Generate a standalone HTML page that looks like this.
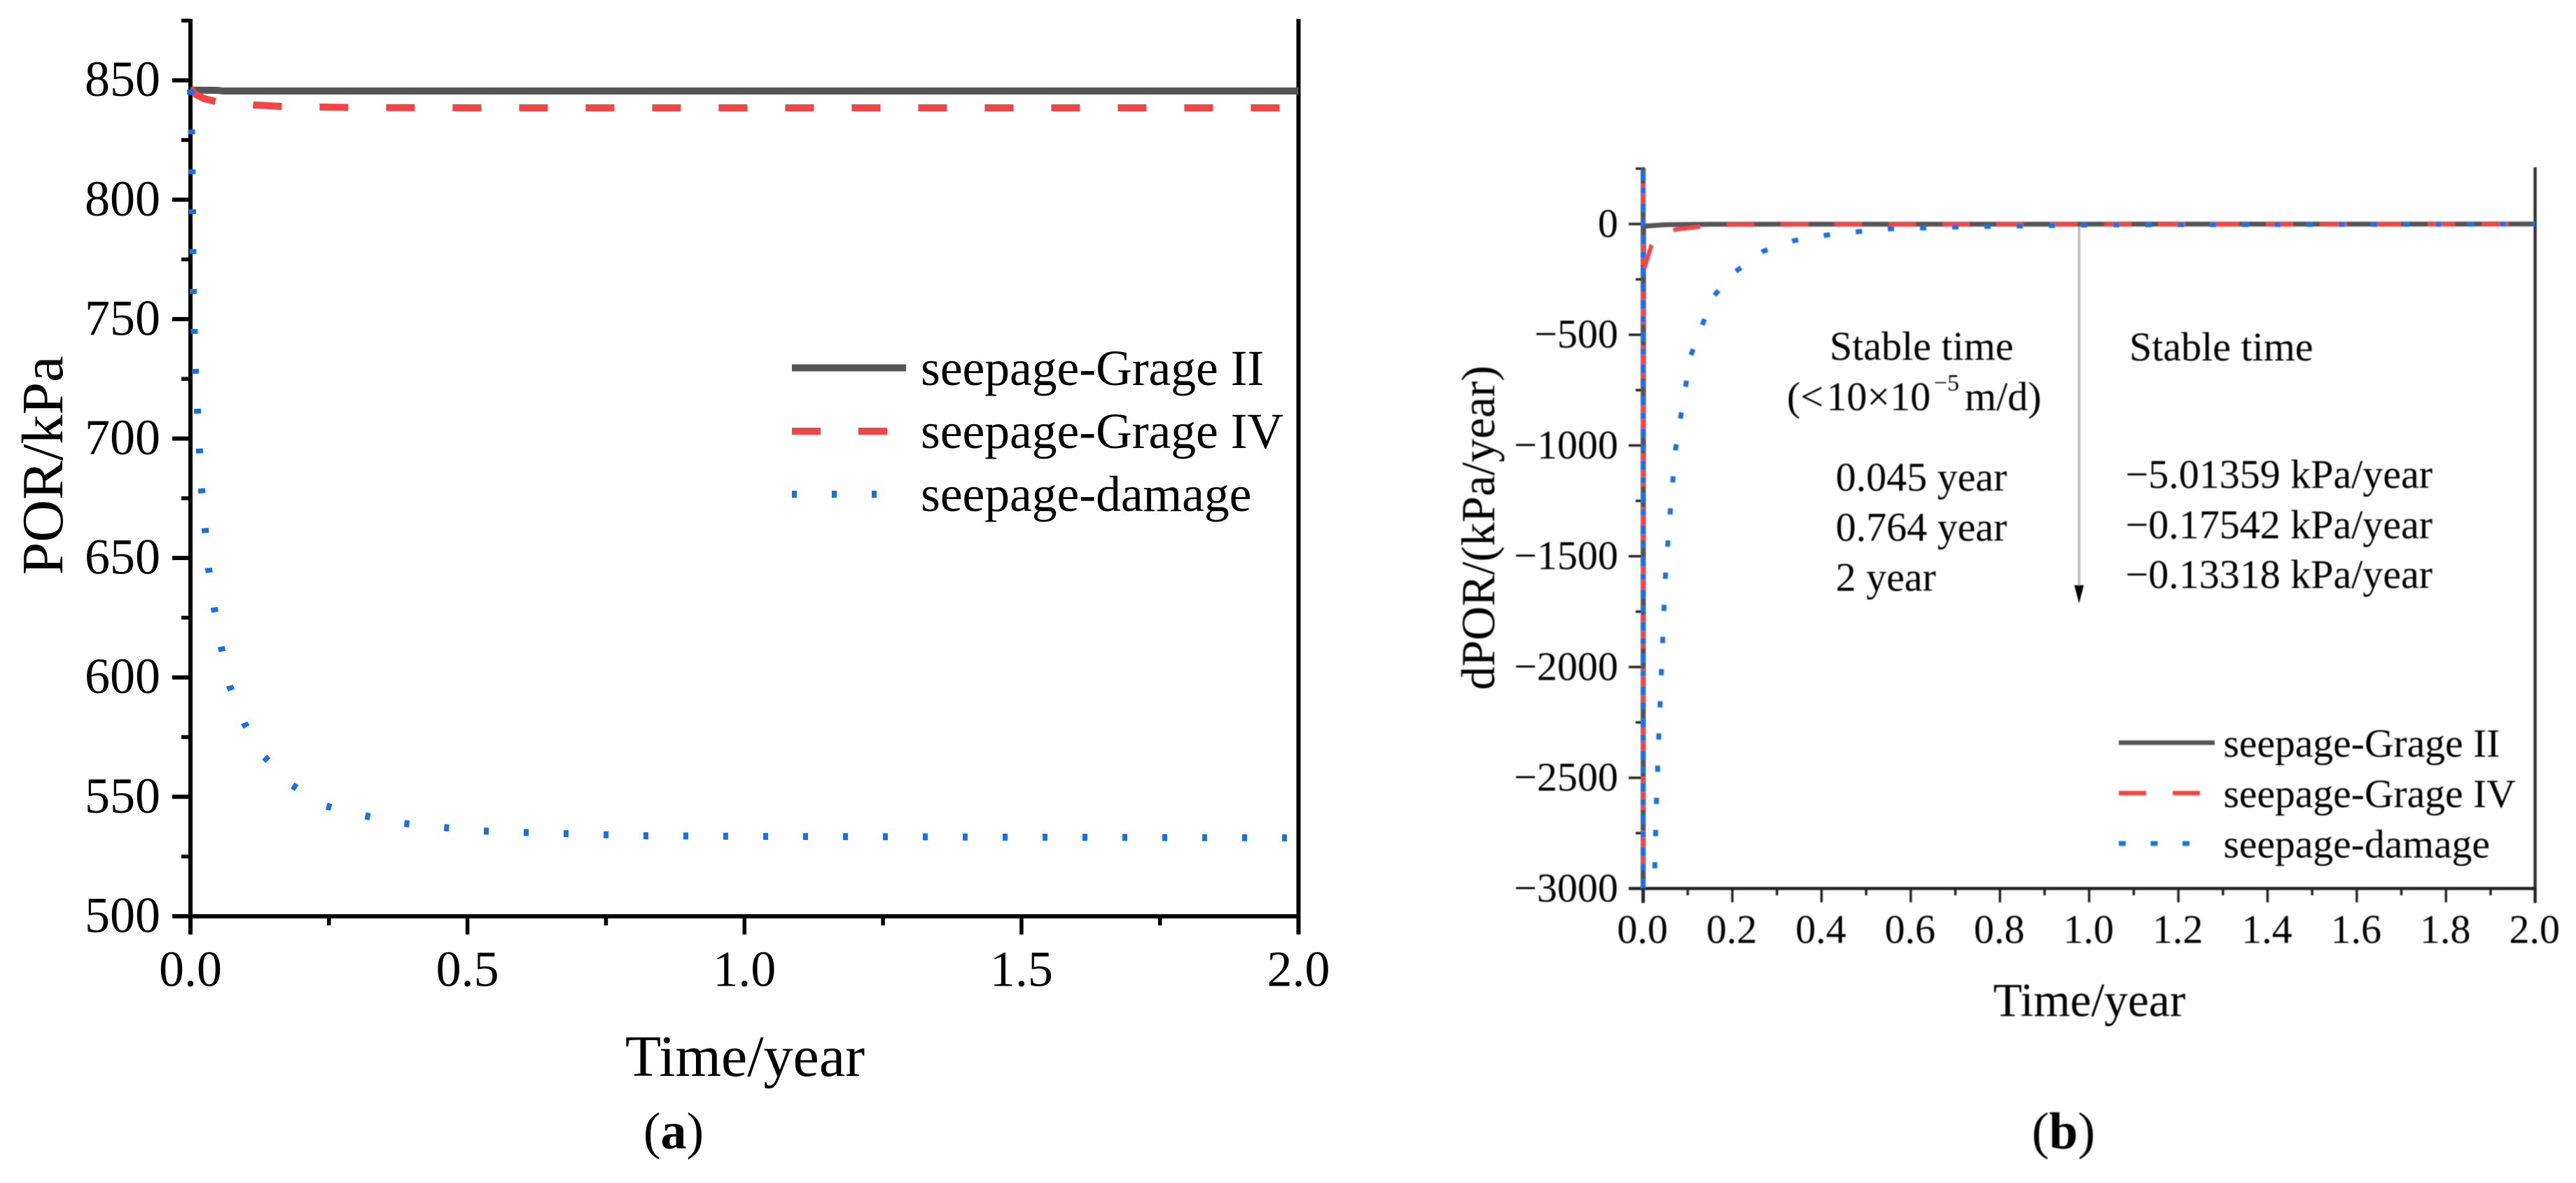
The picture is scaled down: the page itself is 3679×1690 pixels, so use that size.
<!DOCTYPE html>
<html lang="en">
<head>
<meta charset="utf-8">
<title>POR and dPOR over time</title>
<style>
html,body{margin:0;padding:0;background:#fff;}
svg{display:block;}
text{font-family:"Liberation Serif",serif;fill:#000;}
</style>
</head>
<body>
<svg id="figure" xmlns="http://www.w3.org/2000/svg" width="3679" height="1690" viewBox="0 0 3679 1690">
  <defs>
    <clipPath id="plot-b-clip"><rect x="2343" y="240" width="1279" height="1029"/></clipPath>
    <filter id="soft" filterUnits="userSpaceOnUse" x="2050" y="200" width="1629" height="1490"><feGaussianBlur stdDeviation="0.9"/></filter>
  </defs>
  <rect x="0" y="0" width="3679" height="1690" fill="#fff"/>

  <g id="panel-a">
    <g id="a-axes"></g>
    <g id="a-series"></g>
    <text x="1064" y="1537" font-size="84" text-anchor="middle">Time/year</text>
    <text transform="translate(89,665) rotate(-90)" font-size="84" text-anchor="middle">POR/kPa</text>
    <g>
      <line x1="1131" y1="525.5" x2="1294" y2="525.5" stroke="#555555" stroke-width="10"/>
      <line x1="1131" y1="616" x2="1267" y2="616" stroke="#f44444" stroke-width="10" stroke-dasharray="41 54"/>
      <line x1="1131" y1="706" x2="1260" y2="706" stroke="#1a70e0" stroke-width="10" stroke-dasharray="7 50"/>
      <text x="1315" y="550" font-size="71.5">seepage-Grage II</text>
      <text x="1315" y="640" font-size="71.5">seepage-Grage IV</text>
      <text x="1315" y="730" font-size="71.5">seepage-damage</text>
    </g>
    <text x="962" y="1640.5" font-size="74" text-anchor="middle">(<tspan font-weight="bold">a</tspan>)</text>
  </g>

  <g id="panel-b" filter="url(#soft)">
    <g id="b-axes"></g>
    <line x1="2969.3" y1="322" x2="2969.3" y2="838" stroke="#bbbbbb" stroke-width="3.5"/>
    <polygon points="2962.5,836 2976,836 2969.3,862" fill="#000"/>
    <g id="b-series" clip-path="url(#plot-b-clip)"></g>
    <text x="2984" y="1451.5" font-size="67.4" text-anchor="middle">Time/year</text>
    <text transform="translate(2134,754) rotate(-90)" font-size="67.3" text-anchor="middle">dPOR/(kPa/year)</text>

    <text x="2613" y="514" font-size="58">Stable time</text>
    <text y="586" font-size="58"><tspan x="2552">(&lt;</tspan><tspan x="2608.5">10×10</tspan><tspan x="2762" y="558" font-size="34">−5</tspan><tspan x="2806" y="586">m/d)</tspan></text>
    <text x="2621.7" y="701" font-size="58">0.045 year</text>
    <text x="2621.7" y="772.5" font-size="58">0.764 year</text>
    <text x="2621.7" y="844" font-size="58">2 year</text>

    <text x="3041" y="515" font-size="58">Stable time</text>
    <text x="3035.5" y="697" font-size="58">−5.01359 kPa/year</text>
    <text x="3035.5" y="769" font-size="58">−0.17542 kPa/year</text>
    <text x="3035.5" y="840" font-size="58">−0.13318 kPa/year</text>

    <g>
      <line x1="3026" y1="1061" x2="3163" y2="1061" stroke="#555555" stroke-width="6.5"/>
      <line x1="3026" y1="1133" x2="3142" y2="1133" stroke="#f44444" stroke-width="6.5" stroke-dasharray="39 38"/>
      <line x1="3026" y1="1205" x2="3130" y2="1205" stroke="#1a70e0" stroke-width="7" stroke-dasharray="10 35.5"/>
      <text x="3175.5" y="1081" font-size="57.6">seepage-Grage II</text>
      <text x="3175.5" y="1153" font-size="57.6">seepage-Grage IV</text>
      <text x="3175.5" y="1225" font-size="57.6">seepage-damage</text>
    </g>
    <text x="2947" y="1640.5" font-size="74" text-anchor="middle">(<tspan font-weight="bold">b</tspan>)</text>
  </g>
</svg>

<script>
// Panel (a): POR over time
const aYTicks = [500, 550, 600, 650, 700, 750, 800, 850];
const aYMinorTicks = [525, 575, 625, 675, 725, 775, 825, 875];
const aXTicks = ["0.0", "0.5", "1.0", "1.5", "2.0"];
const aXMinorTicks = [0.25, 0.75, 1.25, 1.75];

const aGradeIITime = [0, 0.048, 0.06, 2];
const aGradeIIValue = [845.9, 845.8, 845.5, 845.5];

const aGradeIVTime = [0, 0.01, 0.025, 0.048, 0.115, 0.17, 0.3, 0.5, 2];
const aGradeIVValue = [846.4, 844, 842.3, 841, 839.7, 839, 838.6, 838.5, 838.5];

const aDamageTime = [0, 0.002, 0.0038, 0.005, 0.0088, 0.0164, 0.0202, 0.0265, 0.0329, 0.043, 0.0556, 0.0708, 0.0973, 0.1309, 0.1817, 0.2421, 0.3122, 0.3838, 0.4537, 0.5257, 0.5978, 0.6698, 0.8127, 1.046, 2];
const aDamageValue = [846.1, 828.5, 795.1, 761.7, 728.6, 695.1, 678.5, 662, 645.3, 628.9, 612.8, 596.4, 580.8, 567.4, 555.1, 546.3, 542.2, 538.9, 537.2, 535.7, 535.1, 534.6, 533.7, 533.4, 532.8];

// Panel (b): dPOR over time
const bYTicks = [0, -500, -1000, -1500, -2000, -2500, -3000];
const bYMinorTicks = [250, -250, -750, -1250, -1750, -2250, -2750];
const bXTicks = ["0.0", "0.2", "0.4", "0.6", "0.8", "1.0", "1.2", "1.4", "1.6", "1.8", "2.0"];
const bXMinorTicks = [0.1, 0.3, 0.5, 0.7, 0.9, 1.1, 1.3, 1.5, 1.7, 1.9];

const bGradeIITime = [0, 0, 0.001, 0.05, 0.15, 2];
const bGradeIIValue = [400, -3300, -10, -3, -1, -0.1];

const bGradeIVTime = [0, 0, 0.001, 0.0177, 0.04, 0.0727, 0.132, 0.194, 0.3, 2];
const bGradeIVValue = [400, -3300, -212, -101, -50, -25, -11, -3, -1, -0.175];

const bDamageTime = [0, 0, 0, 0, 0.02, 0.0262, 0.0298, 0.035, 0.0407, 0.0496, 0.0604, 0.0722, 0.0947, 0.1064, 0.1316, 0.1568, 0.2028, 0.2695, 0.337, 0.4083, 0.4787, 0.5507, 0.694, 0.87, 1.03, 2];
const bDamageValue = [400, -3300, 400, -3300, -3200, -2895, -2607, -2319, -2029, -1598, -1308, -1022, -738, -596, -461, -329, -221, -123, -75.5, -51, -35, -22, -14, -8, -4, -0.13];

const NS = "http://www.w3.org/2000/svg";

function aX(t) { return 272 + t * 791.25; }
function aY(v) { return 114.7 + (850 - v) * 3.412; }
function bX(t) { return 2346.7 + t * 637; }
function bY(v) { return 320 - v * 0.31643; }

function drawLine(parent, x1, y1, x2, y2, color, width, name) {
  const el = document.createElementNS(NS, "line");
  el.setAttribute("x1", x1);
  el.setAttribute("y1", y1);
  el.setAttribute("x2", x2);
  el.setAttribute("y2", y2);
  el.setAttribute("stroke", color);
  el.setAttribute("stroke-width", width);
  
  
  parent.appendChild(el);
}

function drawLabel(parent, x, y, size, anchor, content, name) {
  const el = document.createElementNS(NS, "text");
  el.setAttribute("x", x);
  el.setAttribute("y", y);
  el.setAttribute("font-size", size);
  el.setAttribute("text-anchor", anchor);
  el.textContent = content;
  
  
  parent.appendChild(el);
}

function drawSeries(parent, times, values, xf, yf, color, width, dash, gap, anchorIndex, anchorShift, name) {
  const pts = times.map(function (t, i) { return [xf(t), yf(values[i])]; });
  const el = document.createElementNS(NS, "polyline");
  el.setAttribute("points", pts.map(function (p) { return p[0].toFixed(2) + "," + p[1].toFixed(2); }).join(" "));
  el.setAttribute("fill", "none");
  el.setAttribute("stroke", color);
  el.setAttribute("stroke-width", width);
  el.setAttribute("stroke-linejoin", "round");
  if (dash) {
    let length = 0;
    for (let i = 1; i <= anchorIndex; i++) {
      length += Math.hypot(pts[i][0] - pts[i - 1][0], pts[i][1] - pts[i - 1][1]);
    }
    const period = dash + gap;
    el.setAttribute("stroke-dasharray", dash + " " + gap);
    el.setAttribute("stroke-dashoffset", (period - ((length - anchorShift) % period + period) % period).toFixed(2));
  }
  
  
  parent.appendChild(el);
}

// ---- Panel (a) axes ----
const aAxes = document.getElementById("a-axes");
drawLine(aAxes, 272, 27, 272, 1335, "#000", 6, "panel-a-y-axis");
drawLine(aAxes, 1854.5, 27, 1854.5, 1335, "#000", 6, "panel-a-right-axis");
drawLine(aAxes, 246, 1309, 1857, 1309, "#000", 6, "panel-a-x-axis");
aYTicks.forEach(function (v) {
  drawLine(aAxes, 246, aY(v), 272, aY(v), "#000", 6, "panel-a-y-tick");
  drawLabel(aAxes, 229, aY(v) + 22.5, 72, "end", String(v), "panel-a-y-tick-label");
});
aYMinorTicks.forEach(function (v) {
  drawLine(aAxes, 259, aY(v), 272, aY(v), "#000", 5.5, "panel-a-y-minor-tick");
});
aXTicks.forEach(function (label) {
  const t = parseFloat(label);
  drawLine(aAxes, aX(t), 1309, aX(t), 1335, "#000", 5.5, "panel-a-x-tick");
  drawLabel(aAxes, aX(t), 1408.5, 72, "middle", label, "panel-a-x-tick-label");
});
aXMinorTicks.forEach(function (t) {
  drawLine(aAxes, aX(t), 1309, aX(t), 1322, "#000", 5.5, "panel-a-x-minor-tick");
});

// ---- Panel (a) series ----
const aSeries = document.getElementById("a-series");
drawSeries(aSeries, aGradeIITime, aGradeIIValue, aX, aY, "#555555", 10, 0, 0, 0, 0, "series-a-grade-ii");
drawSeries(aSeries, aGradeIVTime, aGradeIVValue, aX, aY, "#f44444", 10, 41, 54, 0, 0, "series-a-grade-iv");
drawSeries(aSeries, aDamageTime, aDamageValue, aX, aY, "#1a70e0", 10, 7, 50, 0, 0, "series-a-damage");

// ---- Panel (b) axes ----
const bAxes = document.getElementById("b-axes");
drawLine(bAxes, 2346.7, 239, 2346.7, 1290, "#333", 5, "panel-b-y-axis");
drawLine(bAxes, 3620.6, 239, 3620.6, 1290, "#333", 4.5, "panel-b-right-axis");
drawLine(bAxes, 2326, 1269.3, 3622, 1269.3, "#222", 4.5, "panel-b-x-axis");
bYTicks.forEach(function (v) {
  drawLine(bAxes, 2326, bY(v), 2347, bY(v), "#222", 3.5, "panel-b-y-tick");
  const text = v < 0 ? "\u2212" + Math.abs(v) : String(v);
  drawLabel(bAxes, 2311, bY(v) + 18.5, 58, "end", text, "panel-b-y-tick-label");
});
bYMinorTicks.forEach(function (v) {
  drawLine(bAxes, 2336, bY(v), 2347, bY(v), "#222", 3.5, "panel-b-y-minor-tick");
});
bXTicks.forEach(function (label) {
  const t = parseFloat(label);
  drawLine(bAxes, bX(t), 1269, bX(t), 1289, "#222", 3.5, "panel-b-x-tick");
  drawLabel(bAxes, bX(t) - 1, 1347, 58, "middle", label, "panel-b-x-tick-label");
});
bXMinorTicks.forEach(function (t) {
  drawLine(bAxes, bX(t), 1269, bX(t), 1279, "#222", 3.5, "panel-b-x-minor-tick");
});

// ---- Panel (b) series ----
const bSeries = document.getElementById("b-series");
drawSeries(bSeries, bGradeIITime, bGradeIIValue, bX, bY, "#555555", 7, 0, 0, 0, 0, "series-b-grade-ii");
drawSeries(bSeries, bGradeIVTime, bGradeIVValue, bX, bY, "#f44444", 6, 39, 38, 2, 0, "series-b-grade-iv");
drawSeries(bSeries, bDamageTime, bDamageValue, bX, bY, "#1a70e0", 7, 9, 37, 5, 4.5, "series-b-damage");
</script>
</body>
</html>
